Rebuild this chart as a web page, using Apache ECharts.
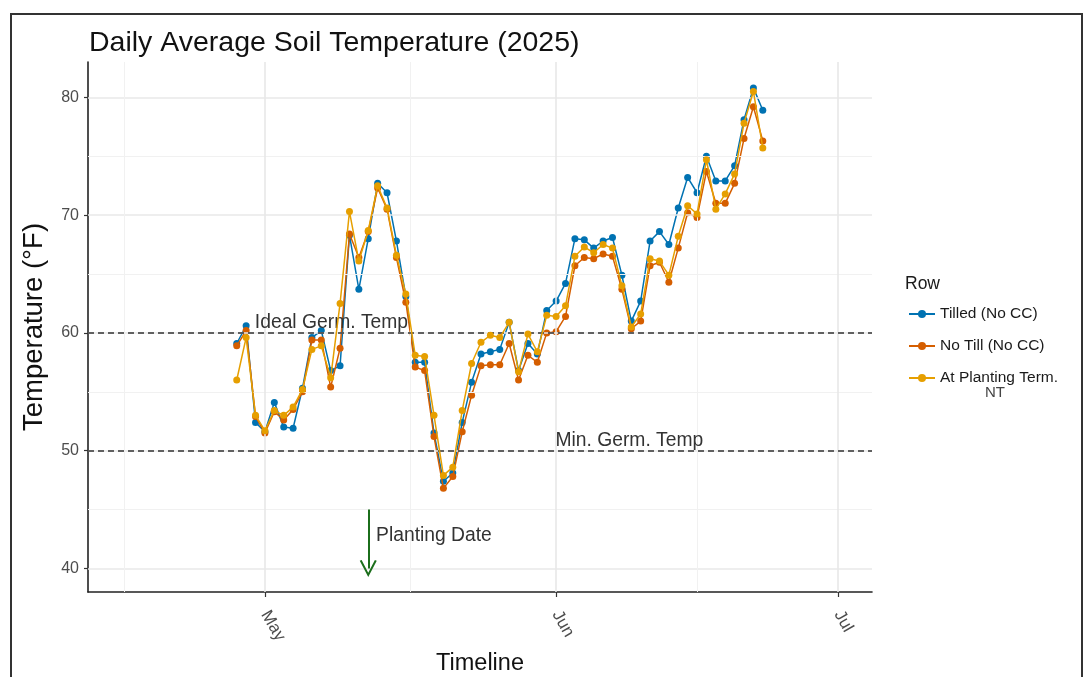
<!DOCTYPE html>
<html><head><meta charset="utf-8">
<script src="https://cdn.jsdelivr.net/npm/echarts@6/dist/echarts.min.js"></script>
<style>html,body{margin:0;padding:0;background:#fff}#chart{width:1090px;height:677px}</style>
</head><body><div id="chart"></div>
<script>
const dates = ['2025-04-28','2025-04-29','2025-04-30','2025-05-01','2025-05-02','2025-05-03','2025-05-04','2025-05-05','2025-05-06','2025-05-07',
'2025-05-08','2025-05-09','2025-05-10','2025-05-11','2025-05-12','2025-05-13','2025-05-14','2025-05-15','2025-05-16','2025-05-17',
'2025-05-18','2025-05-19','2025-05-20','2025-05-21','2025-05-22','2025-05-23','2025-05-24','2025-05-25','2025-05-26','2025-05-27',
'2025-05-28','2025-05-29','2025-05-30','2025-05-31','2025-06-01','2025-06-02','2025-06-03','2025-06-04','2025-06-05','2025-06-06',
'2025-06-07','2025-06-08','2025-06-09','2025-06-10','2025-06-11','2025-06-12','2025-06-13','2025-06-14','2025-06-15','2025-06-16',
'2025-06-17','2025-06-18','2025-06-19','2025-06-20','2025-06-21','2025-06-22','2025-06-23'];
const tilled = [59.1,60.6,52.4,51.6,54.1,52.0,51.9,55.3,59.6,60.2,
56.8,57.2,68.3,63.7,68.0,72.7,71.9,67.8,63.1,57.5,
57.5,51.5,47.4,48.1,52.4,55.8,58.2,58.4,58.6,60.9,
56.8,59.1,58.2,61.9,62.7,64.2,68.0,67.9,67.2,67.8,
68.1,64.9,61.0,62.7,67.8,68.6,67.5,70.6,73.2,71.9,
75.0,72.9,72.9,74.2,78.1,80.8,78.9];
const noTill = [58.9,60.2,52.9,51.5,53.3,52.6,53.5,55.0,59.4,59.4,
55.4,58.7,68.4,66.4,68.6,72.3,70.5,66.4,62.6,57.1,
56.8,51.2,46.8,47.8,51.6,54.7,57.2,57.3,57.3,59.1,
56.0,58.1,57.5,60.0,60.1,61.4,65.7,66.4,66.3,66.7,
66.5,63.7,60.35,61.0,65.7,66.0,64.3,67.2,70.2,69.8,
73.7,71.0,71.0,72.7,76.5,79.2,76.3];
const atPlanting = [56.0,59.6,53.0,51.7,53.4,53.0,53.7,55.2,58.6,58.9,
56.2,62.5,70.3,66.1,68.7,72.5,70.6,66.6,63.3,58.1,
58.0,53.0,47.9,48.6,53.4,57.4,59.2,59.8,59.6,60.9,
56.7,59.9,58.4,61.5,61.4,62.3,66.5,67.3,66.8,67.5,
67.2,64.0,60.5,61.6,66.3,66.1,64.9,68.2,70.8,70.1,
74.7,70.5,71.8,73.5,77.8,80.5,75.7];
const seriesNames = ['Tilled (No CC)','No Till (No CC)','At Planting Term.'];
const seriesColors = ['#0072B2','#D55E00','#E69F00'];
const yTicks = [40,50,60,70,80];
const yMinor = [45,55,65,75];
const xTickDates = ['2025-05-01','2025-06-01','2025-07-01'];
const xTickLabels = ['May','Jun','Jul'];
const xMinorDates = ['2025-04-16','2025-05-16 12','2025-06-16'];
const xRange = ['2025-04-12 04','2025-07-04 15'];
const yRange = [38,83];
const refLines = [60,50];
const refLabels = [{text:'Ideal Germ. Temp', date:'2025-05-08 02', value:60.86},{text:'Min. Germ. Temp', date:'2025-06-08 19', value:50.82}];
const planting = {date:'2025-05-12', from:45, to:40, text:'Planting Date', textDate:'2025-05-12 20', textValue:42.75};

function ts(s){const p=s.split(' ');const d=p[0].split('-').map(Number);const h=p[1]?Number(p[1]):0;return new Date(d[0],d[1]-1,d[2],h).getTime();}
const FONT = '"Liberation Sans", Arial, sans-serif';
const xTickTs = xTickDates.map(ts);
const seriesData = [tilled, noTill, atPlanting];

const chart = echarts.init(document.getElementById('chart'), null, {renderer:'canvas'});
const gridLineData = [
  ...yTicks.map(v=>({yAxis:v, lineStyle:{color:'#e8e8e8', width:1.6, type:'solid'}})),
  ...yMinor.map(v=>({yAxis:v, lineStyle:{color:'#f1f1f1', width:1, type:'solid'}})),
  ...xTickTs.map(t=>({xAxis:t, lineStyle:{color:'#e8e8e8', width:1.6, type:'solid'}})),
  ...xMinorDates.map(d=>({xAxis:ts(d), lineStyle:{color:'#f1f1f1', width:1, type:'solid'}}))
];
const option = {
  animation:false,
  backgroundColor:'#fff',
  textStyle:{fontFamily:FONT},
  title:[
    {text:'Daily Average Soil Temperature (2025)', left:84, top:24, textStyle:{fontSize:28.5, fontWeight:'normal', color:'#111', fontFamily:FONT}},
    {text:'Row', left:900, top:270, textStyle:{fontSize:17.5, fontWeight:'normal', color:'#1a1a1a', fontFamily:FONT}}
  ],
  legend:{
    orient:'vertical', left:903, top:300, itemWidth:26, itemHeight:10, itemGap:14,
    data:seriesNames,
    textStyle:{fontSize:15.5, color:'#1a1a1a', lineHeight:18, fontFamily:FONT}
  },
  grid:{left:88, right:218, top:62, bottom:85, containLabel:false, outerBoundsMode:'none'},
  xAxis:{
    type:'value', min:ts(xRange[0]), max:ts(xRange[1]), scale:true,
    name:'Timeline', nameLocation:'middle', nameGap:57,
    nameTextStyle:{fontSize:23.5, color:'#111', fontFamily:FONT},
    axisLine:{show:true, onZero:false, lineStyle:{color:'#222', width:1.6}},
    axisTick:{show:true, length:5, lineStyle:{color:'#333', width:1.2}, customValues:xTickTs},
    axisLabel:{customValues:xTickTs, rotate:-60, margin:20, fontSize:17, color:'#4d4d4d', fontFamily:FONT,
      formatter:function(v){for(let i=0;i<xTickTs.length;i++){if(Math.abs(v-xTickTs[i])<3600000) return xTickLabels[i];} return '';}},
    splitLine:{show:false}
  },
  yAxis:{
    type:'value', min:yRange[0], max:yRange[1],
    name:'Temperature (°F)', nameLocation:'middle', nameGap:40,
    nameTextStyle:{fontSize:27.5, color:'#111', fontFamily:FONT},
    axisLine:{show:true, onZero:false, lineStyle:{color:'#222', width:1.6}},
    axisTick:{show:true, length:4, lineStyle:{color:'#333', width:1.2}, customValues:yTicks},
    axisLabel:{customValues:yTicks, margin:9, fontSize:16, color:'#4d4d4d', fontFamily:FONT},
    splitLine:{show:false}
  },
  graphic:[
    {type:'polyline', shape:{points:[[11,677],[11,14],[1082,14],[1082,677]]}, style:{stroke:'#333', lineWidth:2, fill:null}, silent:true},
    {type:'text', left:985, top:385, style:{text:'NT', fontSize:15, fill:'#444', fontFamily:FONT}, silent:true}
  ],
  series:[
    {type:'line', name:'_grid', data:[], z:1, silent:true,
      markLine:{silent:true, symbol:'none', animation:false, label:{show:false}, data:gridLineData}},
    {type:'line', name:'_ref', data:[], z:2, silent:true,
      markLine:{silent:true, symbol:'none', animation:false, label:{show:false},
        lineStyle:{color:'#333', width:1.6, type:[6,4]},
        data:refLines.map(v=>({yAxis:v}))},
      markPoint:{silent:true, animation:false,
        data:refLabels.map(r=>({coord:[ts(r.date), r.value], symbol:'circle', symbolSize:0,
          label:{show:true, position:'inside', formatter:r.text, fontSize:19.3, color:'#333', fontFamily:FONT}}))
          .concat([{coord:[ts(planting.textDate), planting.textValue], symbol:'circle', symbolSize:0,
          label:{show:true, position:'right', distance:0, formatter:planting.text, fontSize:19.3, color:'#333', fontFamily:FONT}}])}
    },
    {type:'line', name:'_arrow', data:[], z:2, silent:true,
      markLine:{silent:true, animation:false, label:{show:false},
        symbol:['none','path://M5,0 L10,10 L8.9,10.5 L5,2.6 L1.1,10.5 L0,10 Z'], symbolSize:17,
        lineStyle:{color:'#1b6e1b', width:2, type:'solid'},
        data:[[{coord:[ts(planting.date), planting.from]},{coord:[ts(planting.date), planting.to]}]]}
    },
    ...seriesNames.map((n,k)=>({
      type:'line', name:n, z:3+k,
      data:dates.map((d,i)=>[ts(d), seriesData[k][i]]),
      symbol:'circle', symbolSize:7, showSymbol:true,
      lineStyle:{width:1.5, color:seriesColors[k]},
      itemStyle:{color:seriesColors[k]},
      emphasis:{disabled:true}
    }))
  ]
};
chart.setOption(option);
</script></body></html>
